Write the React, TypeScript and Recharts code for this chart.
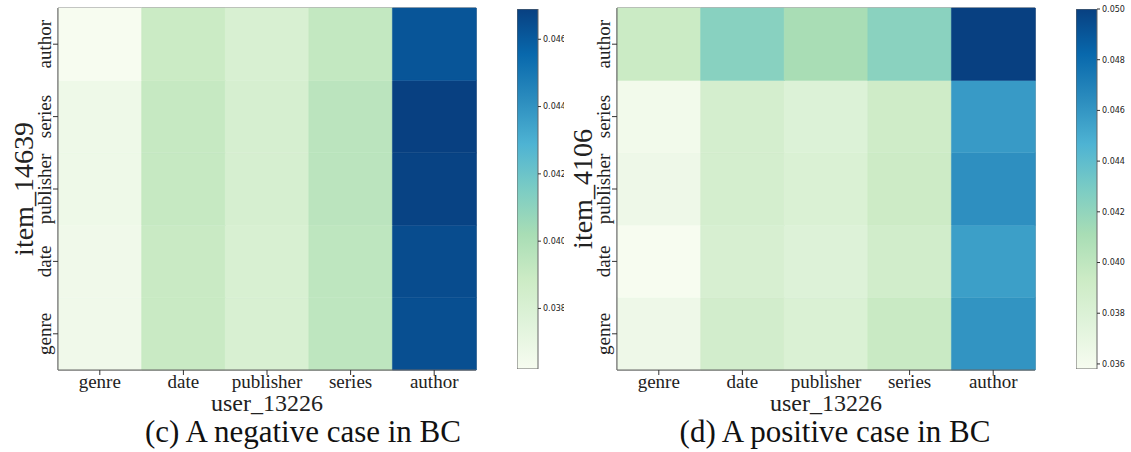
import React from 'react';
import { BarChart, Bar, XAxis, YAxis, Cell, Label, ReferenceArea } from 'recharts';

// heatmap axes (rows listed bottom -> top, as stacked)
const features = ['genre', 'date', 'publisher', 'series', 'author'];
const rowOrder = ['genre', 'date', 'publisher', 'series', 'author'];

// (c) negative case, each row across columns genre..author
const negGenreRow = [0.0366, 0.039, 0.0381, 0.0394, 0.0464];
const negDateRow = [0.0366, 0.039, 0.0381, 0.0394, 0.0465];
const negPublisherRow = [0.0367, 0.0391, 0.0382, 0.0395, 0.0468];
const negSeriesRow = [0.0367, 0.0391, 0.0382, 0.0395, 0.0469];
const negAuthorRow = [0.0362, 0.0389, 0.0381, 0.0392, 0.0462];
const negTicks = [0.038, 0.04, 0.042, 0.044, 0.046];

// (d) positive case
const posGenreRow = [0.0365, 0.0388, 0.0381, 0.0395, 0.0461];
const posDateRow = [0.0358, 0.0384, 0.0378, 0.0389, 0.0456];
const posPublisherRow = [0.0365, 0.0386, 0.0381, 0.0393, 0.0463];
const posSeriesRow = [0.0362, 0.0386, 0.0379, 0.0391, 0.0458];
const posAuthorRow = [0.0394, 0.0424, 0.0411, 0.0423, 0.05];
const posTicks = [0.036, 0.038, 0.04, 0.042, 0.044, 0.046, 0.048, 0.05];

const GNBU = ['#f7fcf0', '#e0f3db', '#ccebc5', '#a8ddb5', '#7bccc4', '#4eb3d3', '#2b8cbe', '#0868ac', '#084081'];
const SERIF = "'Liberation Serif', 'Times New Roman', serif";
const SANS = "'DejaVu Sans', sans-serif";

const hexToRgb = (h: string) => [1, 3, 5].map((i) => parseInt(h.slice(i, i + 2), 16));

const gnbu = (t: number) => {
  const c = Math.max(0, Math.min(1, t)) * (GNBU.length - 1);
  const i = Math.min(Math.floor(c), GNBU.length - 2);
  const f = c - i;
  const a = hexToRgb(GNBU[i]);
  const b = hexToRgb(GNBU[i + 1]);
  const rgb = a.map((v, k) => Math.round(v + (b[k] - v) * f));
  return `rgb(${rgb.join(',')})`;
};

interface PanelProps {
  id: string;
  rows: Record<string, number[]>;
  ticks: number[];
  yTitle: string;
  caption: string;
  left: number;
  captionX: number;
  cbClip?: number;
}

const RowTick = ({ x, y, payload }: any) => {
  const name = rowOrder[Math.floor(payload.value)];
  return (
    <text x={x} y={y} transform={`rotate(-90 ${x} ${y})`} textAnchor="middle" fontFamily={SERIF} fontSize={19} fill="#222">
      {name}
    </text>
  );
};

const Panel = ({ id, rows, ticks, yTitle, caption, left, captionX, cbClip }: PanelProps) => {
  const all = Object.values(rows).flat();
  const vmin = Math.min(...all);
  const vmax = Math.max(...all);
  const chartData = features.map((f) => ({ feature: f, ...Object.fromEntries(rowOrder.map((r) => [r, 1])) }));
  const cbData = [{ name: 'scale', top: vmax }];

  return (
    <>
      <div style={{ position: 'absolute', left, top: 0 }}>
        <BarChart width={480} height={452} data={chartData} barCategoryGap={0} barGap={0}
          margin={{ top: 8, right: 4, bottom: 52, left: 0 }}>
          <XAxis dataKey="feature" type="category" interval={0} height={30} tickSize={5} tickMargin={0}
            axisLine={{ stroke: '#666' }} tickLine={{ stroke: '#333' }}
            tick={{ fontFamily: SERIF, fontSize: 19, fill: '#222' }}>
            <Label content={({ viewBox }: any) => (
              <text x={viewBox.x + viewBox.width / 2} y={411} textAnchor="middle" fontFamily={SERIF} fontSize={24} fill="#222">
                user_13226
              </text>
            )} />
          </XAxis>
          <YAxis type="number" domain={[0, 5]} ticks={[0.5, 1.5, 2.5, 3.5, 4.5]} width={58} tickSize={5} tickMargin={2}
            axisLine={{ stroke: '#666' }} tickLine={{ stroke: '#333' }} tick={<RowTick />}>
            <Label content={({ viewBox }: any) => {
              const cx = viewBox.x + 33;
              const cy = viewBox.y + viewBox.height / 2;
              return (
                <text x={cx} y={cy} transform={`rotate(-90 ${cx} ${cy})`} textAnchor="middle" fontFamily={SERIF} fontSize={28} fill="#222">
                  {yTitle}
                </text>
              );
            }} />
          </YAxis>
          {rowOrder.map((r) => (
            <Bar key={r} dataKey={r} stackId="heat" isAnimationActive={false}>
              {features.map((f, ci) => {
                const c = gnbu((rows[r][ci] - vmin) / (vmax - vmin));
                return <Cell key={f} fill={c} stroke={c} strokeWidth={0.5} />;
              })}
            </Bar>
          ))}
          <ReferenceArea x1="genre" x2="author" y1={0} y2={5} fill="none" stroke="#666" strokeWidth={1} ifOverflow="visible" />
        </BarChart>
      </div>

      <div style={{ position: 'absolute', left: left + 517, top: 0, width: cbClip ?? 61, height: 380, overflow: 'hidden' }}>
        <BarChart width={61} height={380} data={cbData} barCategoryGap={0} margin={{ top: 9, right: 0, bottom: 11, left: 0 }}>
          <defs>
            <linearGradient id={`cb-${id}`} x1="0" y1="1" x2="0" y2="0">
              {GNBU.map((c, i) => (
                <stop key={c} offset={`${(i / (GNBU.length - 1)) * 100}%`} stopColor={c} />
              ))}
            </linearGradient>
          </defs>
          <XAxis dataKey="name" hide />
          <YAxis orientation="right" type="number" domain={[vmin, vmax]} allowDataOverflow ticks={ticks} width={40}
            tickSize={3} tickMargin={2} axisLine={false} tickLine={{ stroke: '#333' }}
            tickFormatter={(v: number) => v.toFixed(3)}
            tick={{ fontFamily: SANS, fontSize: 8, fill: '#222' }} />
          <Bar dataKey="top" fill={`url(#cb-${id})`} stroke="#666" strokeWidth={1} isAnimationActive={false} />
        </BarChart>
      </div>

      <div style={{ position: 'absolute', left: captionX, top: 416, transform: 'translateX(-50%)', whiteSpace: 'nowrap',
        fontFamily: SERIF, fontSize: 31, lineHeight: '31px', color: '#111' }}>
        {caption}
      </div>
    </>
  );
};

export default function App() {
  const negRows = { genre: negGenreRow, date: negDateRow, publisher: negPublisherRow, series: negSeriesRow, author: negAuthorRow };
  const posRows = { genre: posGenreRow, date: posDateRow, publisher: posPublisherRow, series: posSeriesRow, author: posAuthorRow };
  return (
    <div style={{ position: 'absolute', left: 0, top: 0, width: 1131, height: 452, overflow: 'hidden', background: '#fff' }}>
      <Panel id="neg" rows={negRows} ticks={negTicks} yTitle="item_14639" caption="(c) A negative case in BC"
        left={0} captionX={303} cbClip={47} />
      <Panel id="pos" rows={posRows} ticks={posTicks} yTitle="item_4106" caption="(d) A positive case in BC"
        left={559} captionX={835} />
    </div>
  );
}
